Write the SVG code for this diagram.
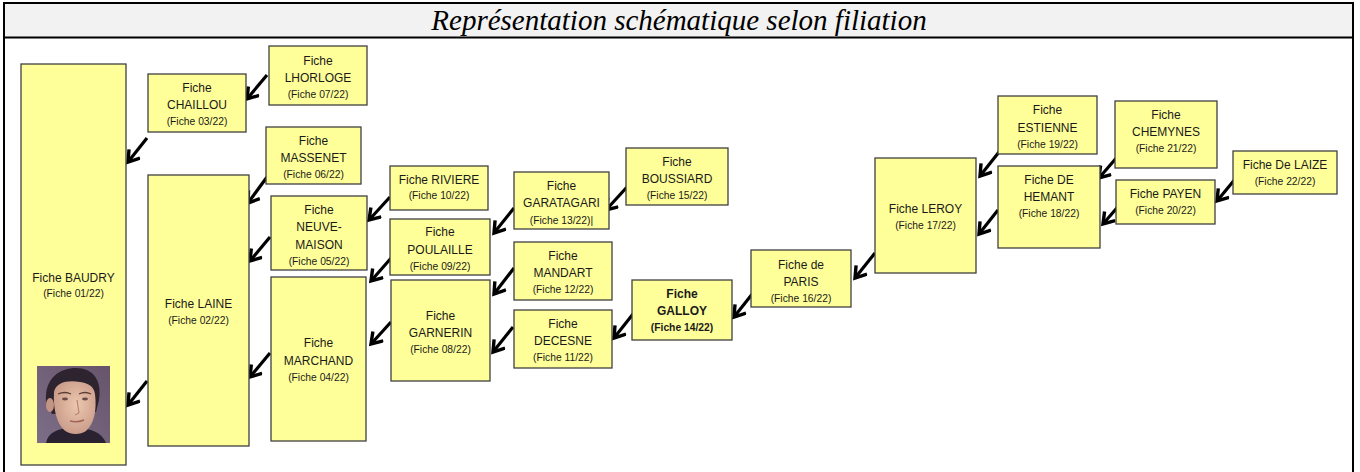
<svg xmlns="http://www.w3.org/2000/svg" width="1360" height="472" viewBox="0 0 1360 472">
<style>
.box{fill:#ffff99;stroke:#404040;stroke-width:1.3}
.t{font-family:"Liberation Sans",Arial,sans-serif;font-size:12px;fill:#1a1a1a;text-anchor:middle}
.s{font-family:"Liberation Sans",Arial,sans-serif;font-size:10.3px;fill:#1a1a1a;text-anchor:middle}
.b{font-weight:bold}
.arr{stroke:#000;stroke-width:3.2;fill:none;marker-end:url(#ah)}
</style>
<defs>
<marker id="ah" markerUnits="userSpaceOnUse" markerWidth="18" markerHeight="18" refX="12" refY="8" orient="auto">
<path d="M1.5,1 L12,8 L1.5,15" stroke="#000" stroke-width="3.4" fill="none"/>
</marker>
<linearGradient id="bg" x1="1" y1="0" x2="0" y2="1">
<stop offset="0" stop-color="#66546a"/>
<stop offset="1" stop-color="#7d6e88"/>
</linearGradient>
<radialGradient id="face" cx="0.55" cy="0.45" r="0.6">
<stop offset="0" stop-color="#ecc7ae"/>
<stop offset="1" stop-color="#c99a88"/>
</radialGradient>
</defs>
<rect x="0" y="0" width="1360" height="472" fill="#fff"/>
<g id="frame">
<rect x="4" y="3" width="1349" height="34" fill="#f2f2f2"/>
<rect x="4" y="3" width="1349" height="490" fill="none" stroke="#000" stroke-width="2"/>
<line x1="4" y1="37.5" x2="1353" y2="37.5" stroke="#000" stroke-width="2.2"/>
<text x="679" y="30" font-family="'Liberation Serif','Times New Roman',serif" font-style="italic" font-size="29" fill="#000" text-anchor="middle">Représentation schématique selon filiation</text>
</g>
<g id="connectors">
<line class="arr" x1="267" y1="75" x2="247" y2="99"/>
<line class="arr" x1="147" y1="138" x2="128" y2="162"/>
<line class="arr" x1="267" y1="177" x2="248" y2="203"/>
<line class="arr" x1="270" y1="237" x2="250" y2="261"/>
<line class="arr" x1="270" y1="353" x2="250" y2="377"/>
<line class="arr" x1="147" y1="381" x2="128" y2="405"/>
<line class="arr" x1="390" y1="197" x2="369" y2="220"/>
<line class="arr" x1="392" y1="257" x2="371" y2="281"/>
<line class="arr" x1="391" y1="322" x2="371" y2="344"/>
<line class="arr" x1="514" y1="208" x2="494" y2="233"/>
<line class="arr" x1="627" y1="187" x2="606" y2="210"/>
<line class="arr" x1="514" y1="268" x2="494" y2="294"/>
<line class="arr" x1="513" y1="327" x2="493" y2="352"/>
<line class="arr" x1="633" y1="314" x2="614" y2="338"/>
<line class="arr" x1="753" y1="293" x2="734" y2="317"/>
<line class="arr" x1="875" y1="253" x2="855" y2="278"/>
<line class="arr" x1="999" y1="152" x2="980" y2="176"/>
<line class="arr" x1="998" y1="210" x2="979" y2="234"/>
<line class="arr" x1="1118" y1="156" x2="1099" y2="178"/>
<line class="arr" x1="1122" y1="202" x2="1103" y2="224"/>
<line class="arr" x1="1236" y1="178" x2="1217" y2="201"/>
</g>
<g id="baudry">
<rect class="box" x="21" y="64" width="105" height="401"/>
<text class="t" x="73.5" y="282">Fiche BAUDRY</text>
<text class="s" x="73.5" y="296.5">(Fiche 01/22)</text>
<g id="portrait">
<rect x="37" y="366" width="73" height="77" fill="url(#bg)"/>
<path d="M46,443 C48,432 58,428 74,428 C92,428 102,433 106,443 Z" fill="#2a2230"/>
<path d="M46,402 C44,378 60,368 76,368 C93,368 102,380 99,400 L96,412 L52,414 Z" fill="#2e2430"/>
<ellipse cx="50" cy="405" rx="4" ry="7" fill="#c49484"/>
<path d="M54,392 C56,382 68,380 80,382 C88,383 94,386 95,394 C97,410 94,424 86,431 C80,435 70,435 64,430 C57,423 53,410 54,392 Z" fill="url(#face)"/>
<path d="M58,394 Q65,391 71,394" stroke="#5a3a32" stroke-width="1.3" fill="none"/>
<path d="M79,394 Q85,391 91,394" stroke="#5a3a32" stroke-width="1.3" fill="none"/>
<ellipse cx="65" cy="399" rx="3" ry="1.4" fill="#6a4a44"/>
<ellipse cx="85" cy="399" rx="3" ry="1.4" fill="#6a4a44"/>
<path d="M77,400 L79,413 L75,415" stroke="#b07c6c" stroke-width="1" fill="none"/>
<path d="M70,421 Q77,423 84,420" stroke="#a0645a" stroke-width="1.4" fill="none"/>
</g>
</g>
<g id="laine">
<rect class="box" x="148" y="175" width="101" height="271"/>
<text class="t" x="198.5" y="308">Fiche LAINE</text>
<text class="s" x="198.5" y="323.5">(Fiche 02/22)</text>
</g>
<g id="chaillou">
<rect class="box" x="148" y="74" width="98" height="58"/>
<text class="t" x="197" y="92">Fiche</text>
<text class="t" x="197" y="109">CHAILLOU</text>
<text class="s" x="197" y="124.5">(Fiche 03/22)</text>
</g>
<g id="lhorloge">
<rect class="box" x="269" y="46" width="98" height="59"/>
<text class="t" x="318" y="65">Fiche</text>
<text class="t" x="318" y="82">LHORLOGE</text>
<text class="s" x="318" y="97.5">(Fiche 07/22)</text>
</g>
<g id="massenet">
<rect class="box" x="266" y="127" width="95" height="57"/>
<text class="t" x="313.5" y="145">Fiche</text>
<text class="t" x="313.5" y="162">MASSENET</text>
<text class="s" x="313.5" y="177.5">(Fiche 06/22)</text>
</g>
<g id="neuvemaison">
<rect class="box" x="271" y="196" width="96" height="74"/>
<text class="t" x="319" y="214">Fiche</text>
<text class="t" x="319" y="231">NEUVE-</text>
<text class="t" x="319" y="249">MAISON</text>
<text class="s" x="319" y="264.5">(Fiche 05/22)</text>
</g>
<g id="marchand">
<rect class="box" x="271" y="277" width="95" height="164"/>
<text class="t" x="318.5" y="347">Fiche</text>
<text class="t" x="318.5" y="365">MARCHAND</text>
<text class="s" x="318.5" y="380.5">(Fiche 04/22)</text>
</g>
<g id="riviere">
<rect class="box" x="390" y="166" width="98" height="44"/>
<text class="t" x="439" y="184">Fiche RIVIERE</text>
<text class="s" x="439" y="198.5">(Fiche 10/22)</text>
</g>
<g id="poulaille">
<rect class="box" x="390" y="219" width="100" height="56"/>
<text class="t" x="440" y="236">Fiche</text>
<text class="t" x="440" y="254">POULAILLE</text>
<text class="s" x="440" y="270">(Fiche 09/22)</text>
</g>
<g id="garnerin">
<rect class="box" x="391" y="280" width="99" height="101"/>
<text class="t" x="440.5" y="320">Fiche</text>
<text class="t" x="440.5" y="337">GARNERIN</text>
<text class="s" x="440.5" y="352.5">(Fiche 08/22)</text>
</g>
<g id="garatagari">
<rect class="box" x="514" y="172" width="95" height="57"/>
<text class="t" x="561.5" y="190">Fiche</text>
<text class="t" x="561.5" y="207" font-size="11">GARATAGARI</text>
<text class="s" x="561.5" y="223.5">(Fiche 13/22)|</text>
</g>
<g id="boussiard">
<rect class="box" x="626" y="148" width="102" height="57"/>
<text class="t" x="677" y="166">Fiche</text>
<text class="t" x="677" y="183">BOUSSIARD</text>
<text class="s" x="677" y="198.5">(Fiche 15/22)</text>
</g>
<g id="mandart">
<rect class="box" x="514" y="242" width="98" height="58"/>
<text class="t" x="563" y="260">Fiche</text>
<text class="t" x="563" y="277">MANDART</text>
<text class="s" x="563" y="292.5">(Fiche 12/22)</text>
</g>
<g id="decesne">
<rect class="box" x="514" y="310" width="98" height="58"/>
<text class="t" x="563" y="328">Fiche</text>
<text class="t" x="563" y="345">DECESNE</text>
<text class="s" x="563" y="360.5">(Fiche 11/22)</text>
</g>
<g id="galloy">
<rect class="box" x="632" y="280" width="100" height="60"/>
<text class="t b" x="682" y="298">Fiche</text>
<text class="t b" x="682" y="315">GALLOY</text>
<text class="s b" x="682" y="330.5">(Fiche 14/22)</text>
</g>
<g id="paris">
<rect class="box" x="751" y="250" width="100" height="57"/>
<text class="t" x="801" y="269">Fiche de</text>
<text class="t" x="801" y="286">PARIS</text>
<text class="s" x="801" y="301.5">(Fiche 16/22)</text>
</g>
<g id="leroy">
<rect class="box" x="875" y="158" width="101" height="115"/>
<text class="t" x="925.5" y="213">Fiche LEROY</text>
<text class="s" x="925.5" y="228.5">(Fiche 17/22)</text>
</g>
<g id="estienne">
<rect class="box" x="998" y="96" width="99" height="58"/>
<text class="t" x="1047.5" y="114">Fiche</text>
<text class="t" x="1047.5" y="132">ESTIENNE</text>
<text class="s" x="1047.5" y="147.5">(Fiche 19/22)</text>
</g>
<g id="dehemant">
<rect class="box" x="998" y="166" width="102" height="82"/>
<text class="t" x="1049" y="184">Fiche DE</text>
<text class="t" x="1049" y="201">HEMANT</text>
<text class="s" x="1049" y="216.5">(Fiche 18/22)</text>
</g>
<g id="chemynes">
<rect class="box" x="1115" y="101" width="102" height="67"/>
<text class="t" x="1166" y="119">Fiche</text>
<text class="t" x="1166" y="136">CHEMYNES</text>
<text class="s" x="1166" y="151.5">(Fiche 21/22)</text>
</g>
<g id="payen">
<rect class="box" x="1116" y="180" width="99" height="44"/>
<text class="t" x="1165.5" y="198">Fiche PAYEN</text>
<text class="s" x="1165.5" y="213.5">(Fiche 20/22)</text>
</g>
<g id="delaize">
<rect class="box" x="1233" y="151" width="104" height="43"/>
<text class="t" x="1285" y="169">Fiche De LAIZE</text>
<text class="s" x="1285" y="184.5">(Fiche 22/22)</text>
</g>
</svg>
